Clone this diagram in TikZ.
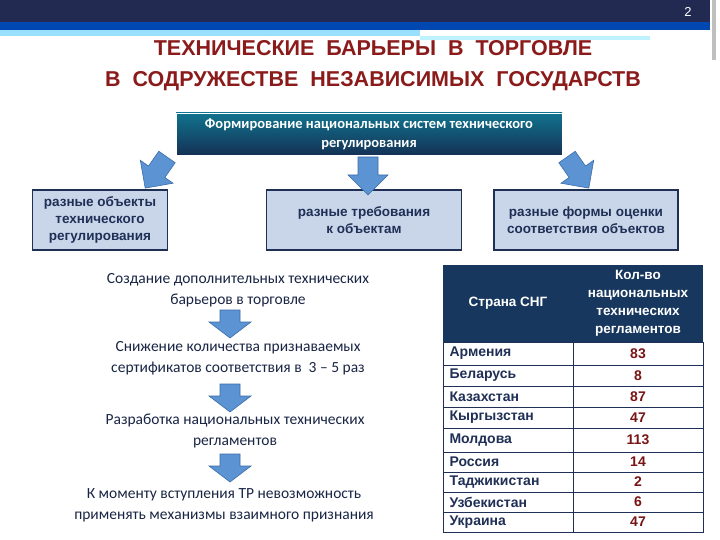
\documentclass[tikz,border=0pt]{standalone}
\usepackage{fontspec}
\setmainfont{Liberation Sans}
\newfontfamily\carlfont{Carlito}
\begin{document}
\begin{tikzpicture}[x=1pt,y=-1pt,
  blk/.style={fill=boxfill,draw=navy,line width=1.2pt,minimum width=#1,minimum height=60pt,align=center,font=\fontsize{13.5}{17}\selectfont\bfseries,text=navy,inner sep=0pt},
  barr/.style={fill=arrfill,draw=arrline,line width=0.6pt},
  lt/.style={align=center,font=\carlfont\fontsize{15.5}{21}\selectfont,text=navy!80!black},
  cell/.style={font=\fontsize{14}{16}\selectfont\bfseries,text=navy,anchor=west},
  num/.style={font=\fontsize{14}{16}\selectfont\bfseries,text=numred}]
\definecolor{navy}{HTML}{1F2F55}
\definecolor{boxfill}{HTML}{C9D6EA}
\definecolor{arrfill}{HTML}{5B93D3}
\definecolor{arrline}{HTML}{3D6DA8}
\definecolor{numred}{HTML}{7A1414}
\definecolor{dred}{HTML}{8B1A1A}
\definecolor{topbar}{HTML}{232A52}
\definecolor{hdr}{HTML}{17375E}
\useasboundingbox (0,0) rectangle (720,540);
\fill[white] (0,0) rectangle (720,540);
% header band
\fill[topbar] (0,0) rectangle (710,22);
\fill[blue!60!cyan!70!black] (0,22) rectangle (710,30);
\fill[blue!30!cyan!40] (0,30) rectangle (420,36);
\fill[blue!20!cyan!25] (420,36) rectangle (650,40);
\fill[gray!50] (712,0) rectangle (716,60);
\node[font=\fontsize{13}{15}\selectfont,text=white] (pg) at (688,12) {2};
% title
\node[align=center,font=\fontsize{21.5}{31}\selectfont\bfseries,text=dred] (title) at (373,66) {ТЕХНИЧЕСКИЕ\ \ БАРЬЕРЫ\ \ В\ \ ТОРГОВЛЕ\\В\ \ СОДРУЖЕСТВЕ\ \ НЕЗАВИСИМЫХ\ \ ГОСУДАРСТВ};
% top box
\node[minimum width=386pt,minimum height=42pt,inner sep=0pt,shading=axis,top color=hdr!70!cyan,bottom color=hdr!90!black,draw=white,line width=0.8pt,align=center,text=white,font=\carlfont\bfseries\fontsize{14.5}{19}\selectfont] (top) at (369,134) {Формирование национальных систем технического\\регулирования};
% boxes
\node[blk=135pt] (b1) at (100,220) {разные объекты\\технического\\регулирования};
\node[blk=195pt] (b2) at (364,220) {разные требования\\к объектам};
\node[blk=184pt] (b3) at (586,220) {разные формы оценки\\соответствия объектов};
% block arrows
\foreach \px/\py/\ang in {167/157/-35, 368/157/0, 567/157/35}{
  \begin{scope}[shift={(\px,\py)},rotate=\ang]
    \draw[barr] (-10,0) -- (10,0) -- (10,18) -- (20,18) -- (0,38) -- (-20,18) -- (-10,18) -- cycle;
  \end{scope}}
% left column
\node[lt] (t1) at (238,290) {Создание дополнительных технических\\барьеров в торговле};
\node[lt] (t2) at (238,358) {Снижение количества признаваемых\\сертификатов соответствия в \ 3 – 5 раз};
\node[lt] (t3) at (235,431) {Разработка национальных технических\\регламентов};
\node[lt] (t4) at (224,505) {К моменту вступления ТР невозможность\\применять механизмы взаимного признания};
\foreach \yy in {310,384,454}{
  \draw[barr] (220,\yy) -- (240,\yy) -- (240,\yy+12) -- (251,\yy+12) -- (230,\yy+28) -- (209,\yy+12) -- (220,\yy+12) -- cycle;}
% table
\fill[hdr] (443,265) rectangle (703,342);
\node[text=white,font=\fontsize{13.5}{18}\selectfont\bfseries] (h1) at (508,303) {Страна СНГ};
\node[text=white,align=center,font=\fontsize{13.5}{18}\selectfont\bfseries] (h2) at (638,303) {Кол-во\\национальных\\технических\\регламентов};
\draw[navy,line width=0.8pt] (443,342) rectangle (703,532);
\draw[navy,line width=0.8pt] (573,342) -- (573,532);
\foreach \yy in {365,386,407,428,452,472,492,512}{\draw[navy,line width=0.6pt] (443,\yy) -- (703,\yy);}
\foreach \c/\n/\yy in {Армения/83/353.5, Беларусь/8/375.5, Казахстан/87/396.5, Кыргызстан/47/417.5, Молдова/113/440, Россия/14/462, Таджикистан/2/482, Узбекистан/6/502, Украина/47/522}{
  \node[cell] at (446,\yy) {\c};
  \node[num] at (638,\yy) {\n};}
\end{tikzpicture}
\end{document}
